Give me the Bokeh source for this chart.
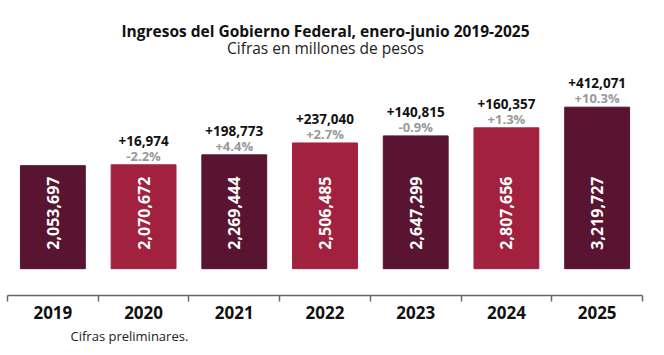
from bokeh.plotting import figure
from bokeh.models import ColumnDataSource, Range1d, FixedTicker, Label, Title
from bokeh.core.properties import value
from bokeh.embed import file_html
from bokeh.resources import INLINE
import math

years = ["2019", "2020", "2021", "2022", "2023", "2024", "2025"]
ingresos = [2053697, 2070672, 2269444, 2506485, 2647299, 2807656, 3219727]
variacion_abs = [None, 16974, 198773, 237040, 140815, 160357, 412071]
variacion_pct = [None, -2.2, 4.4, 2.7, -0.9, 1.3, 10.3]

DARK = "#581430"
RED = "#a2213f"
colors = [DARK if i % 2 == 0 else RED for i in range(len(years))]
idx = list(range(len(years)))

src = ColumnDataSource(dict(
    x=idx, top=ingresos, color=colors,
    label=[f"{v:,}" for v in ingresos],
))
chg_idx = [i for i in idx if variacion_abs[i] is not None]
src2 = ColumnDataSource(dict(
    x=chg_idx,
    top=[ingresos[i] for i in chg_idx],
    dlab=[f"{variacion_abs[i]:+,}" for i in chg_idx],
    plab=[f"{variacion_pct[i]:+.1f}%" for i in chg_idx],
))

FONT = "Open Sans"

p = figure(width=656, height=347, output_backend="svg", toolbar_location=None,
           x_range=Range1d(-0.5, len(years) - 0.5),
           y_range=Range1d(-534653, 5346535),
           min_border_left=7, min_border_right=14, min_border_top=0, min_border_bottom=50)
p.title.visible = False
p.outline_line_color = None
p.xgrid.visible = False
p.ygrid.visible = False
p.yaxis.visible = False
p.background_fill_color = "white"
p.border_fill_color = "white"

p.vbar(x="x", top="top", bottom=0, width=0.715, color="color", source=src)

p.text(x="x", y=0, text="label", source=src, angle=math.pi / 2,
       text_align="left", text_baseline="middle", y_offset=-19,
       text_color="white", text_font=value(FONT), text_font_style="bold",
       text_font_size="16px")

p.text(x="x", y="top", text="dlab", source=src2, y_offset=-24,
       text_align="center", text_baseline="middle",
       text_color="#111111", text_font=value(FONT), text_font_style="bold",
       text_font_size="13.5px")
p.text(x="x", y="top", text="plab", source=src2, y_offset=-9,
       text_align="center", text_baseline="middle",
       text_color="#999999", text_font=value(FONT), text_font_style="bold",
       text_font_size="13px")

ax = p.xaxis[0]
ax.ticker = FixedTicker(ticks=idx, minor_ticks=[i - 0.5 for i in range(len(years) + 1)])
ax.major_label_overrides = {i: y for i, y in enumerate(years)}
ax.major_tick_in = 0
ax.major_tick_out = 0
ax.minor_tick_in = 0
ax.minor_tick_out = 6
ax.minor_tick_line_color = "#666666"
ax.minor_tick_line_width = 1.5
ax.axis_line_color = "#666666"
ax.axis_line_width = 1.5
ax.major_label_standoff = 4
ax.major_label_text_font = FONT
ax.major_label_text_font_style = "bold"
ax.major_label_text_font_size = "17px"
ax.major_label_text_color = "#111111"

p.add_layout(Title(text="Cifras preliminares.", align="left", offset=63, standoff=6,
                   text_font=FONT, text_font_style="normal", text_font_size="13px",
                   text_color="#222222"), "below")

p.add_layout(Label(x=318, y=265, x_units="screen", y_units="screen",
                   text="Ingresos del Gobierno Federal, enero-junio 2019-2025",
                   text_align="center", text_baseline="middle",
                   text_font=FONT, text_font_style="bold", text_font_size="15.5px",
                   text_color="#111111"))
p.add_layout(Label(x=318, y=248, x_units="screen", y_units="screen",
                   text="Cifras en millones de pesos",
                   text_align="center", text_baseline="middle",
                   text_font=FONT, text_font_size="15.5px", text_color="#222222"))

open("out.html", "w").write(file_html(p, INLINE))
